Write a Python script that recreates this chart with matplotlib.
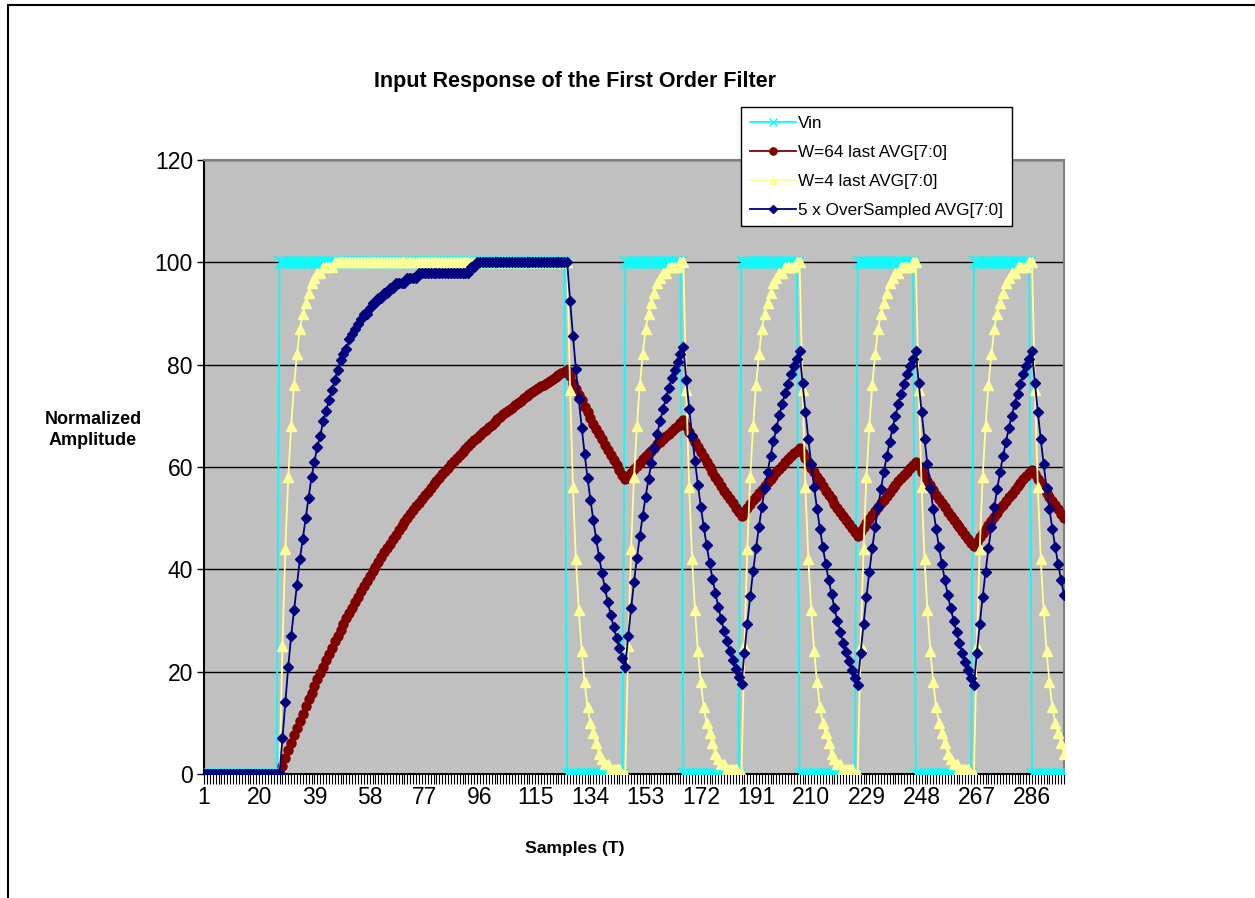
import matplotlib
matplotlib.use("Agg")
import matplotlib.pyplot as plt
from matplotlib.patches import Rectangle

plt.rcParams['font.family'] = ['Liberation Sans', 'DejaVu Sans']

# sample index (category axis)
samples = list(range(1, 298))

# input square wave
vin = ([0] * 26 + [100] * 99 + [0] * 20 + [100] * 20 + [0] * 20 + [100] * 20
       + [0] * 20 + [100] * 20 + [0] * 20 + [100] * 20 + [0] * 12)

# W=64 filter output
w64 = [0] * 27 + [
    1.6, 3.1, 4.6, 6.1, 7.6, 9.0, 10.4, 11.8, 13.2, 14.6,
    15.9, 17.2, 18.5, 19.8, 21.0, 22.3, 23.5, 24.7, 25.9, 27.0,
    28.2, 29.3, 30.4, 31.5, 32.5, 33.6, 34.6, 35.7, 36.7, 37.7,
    38.6, 39.6, 40.5, 41.5, 42.4, 43.3, 44.2, 45.0, 45.9, 46.7,
    47.6, 48.4, 49.2, 50.0, 50.8, 51.5, 52.3, 53.0, 53.8, 54.5,
    55.2, 55.9, 56.6, 57.3, 57.9, 58.6, 59.3, 59.9, 60.5, 61.1,
    61.7, 62.3, 62.9, 63.5, 64.1, 64.6, 65.2, 65.7, 66.3, 66.8,
    67.3, 67.8, 68.3, 68.8, 69.3, 69.8, 70.3, 70.7, 71.2, 71.6,
    72.1, 72.5, 72.9, 73.4, 73.8, 74.2, 74.6, 75.0, 75.4, 75.8,
    76.1, 76.5, 76.9, 77.2, 77.6, 78.0, 78.3, 78.6, 79.0,
    77.7, 76.5, 75.3, 74.1, 73.0, 71.8, 70.7, 69.6, 68.5, 67.5,
    66.4, 65.4, 64.3, 63.3, 62.4, 61.4, 60.4, 59.5, 58.5, 57.6,
    58.3, 58.9, 59.6, 60.2, 60.8, 61.5, 62.1, 62.7, 63.2, 63.8,
    64.4, 64.9, 65.5, 66.0, 66.5, 67.1, 67.6, 68.1, 68.6, 69.1,
    68.0, 66.9, 65.9, 64.9, 63.9, 62.9, 61.9, 60.9, 60.0, 59.0,
    58.1, 57.2, 56.3, 55.4, 54.5, 53.7, 52.9, 52.0, 51.2, 50.4,
    51.2, 52.0, 52.7, 53.5, 54.2, 54.9, 55.6, 56.3, 57.0, 57.6,
    58.3, 59.0, 59.6, 60.2, 60.9, 61.5, 62.1, 62.7, 63.2, 63.8,
    62.8, 61.8, 60.9, 59.9, 59.0, 58.1, 57.2, 56.3, 55.4, 54.5,
    53.7, 52.8, 52.0, 51.2, 50.4, 49.6, 48.8, 48.1, 47.3, 46.6,
    47.4, 48.2, 49.1, 49.8, 50.6, 51.4, 52.2, 52.9, 53.6, 54.4,
    55.1, 55.8, 56.5, 57.2, 57.8, 58.5, 59.1, 59.8, 60.4, 61.0,
    60.1, 59.1, 58.2, 57.3, 56.4, 55.5, 54.6, 53.8, 53.0, 52.1,
    51.3, 50.5, 49.7, 48.9, 48.2, 47.4, 46.7, 46.0, 45.2, 44.5,
    45.4, 46.3, 47.1, 47.9, 48.7, 49.5, 50.3, 51.1, 51.9, 52.6,
    53.4, 54.1, 54.8, 55.5, 56.2, 56.9, 57.6, 58.2, 58.9, 59.5,
    58.6, 57.7, 56.8, 55.9, 55.0, 54.2, 53.3, 52.5, 51.7, 50.9, 50.1]

# W=4 filter output
w4 = [0] * 27 + [
    25, 44, 58, 68, 76, 82, 87, 90, 92, 94, 96, 97, 98, 98, 99, 99, 99, 99, 100, 100] + [100] * 79 + [
    75, 56, 42, 32, 24, 18, 13, 10, 8, 6, 4, 3, 2, 2, 1, 1, 1, 1, 0, 0,
    25, 44, 58, 68, 76, 82, 87, 90, 92, 94, 96, 97, 98, 98, 99, 99, 99, 99, 100, 100,
    75, 56, 42, 32, 24, 18, 13, 10, 8, 6, 4, 3, 2, 2, 1, 1, 1, 1, 0, 0,
    25, 44, 58, 68, 76, 82, 87, 90, 92, 94, 96, 97, 98, 98, 99, 99, 99, 99, 100, 100,
    75, 56, 42, 32, 24, 18, 13, 10, 8, 6, 4, 3, 2, 2, 1, 1, 1, 1, 0, 0,
    25, 44, 58, 68, 76, 82, 87, 90, 92, 94, 96, 97, 98, 98, 99, 99, 99, 99, 100, 100,
    75, 56, 42, 32, 24, 18, 13, 10, 8, 6, 4, 3, 2, 2, 1, 1, 1, 1, 0, 0,
    25, 44, 58, 68, 76, 82, 87, 90, 92, 94, 96, 97, 98, 98, 99, 99, 99, 99, 100, 100,
    75, 56, 42, 32, 24, 18, 13, 10, 8, 6, 4]

# 5x oversampled output
over5 = [0] * 27 + [
    7, 14, 21, 27, 32, 37, 42, 46, 50, 54,
    58, 61, 64, 66, 69, 71, 73, 75, 77, 79,
    81, 82, 83, 85, 86, 87, 88, 89, 90, 90,
    91, 92, 92, 93, 93, 94, 94, 95, 95, 96,
    96, 96, 96, 97, 97, 97, 97, 98, 98, 98,
    98, 98, 98, 98, 98, 98, 98, 98, 98, 98,
    98, 98, 98, 98, 98, 99, 99] + [100] * 32 + [
    92.5, 85.6, 79.1, 73.2, 67.7, 62.6, 57.9, 53.6, 49.6, 45.9,
    42.4, 39.2, 36.3, 33.6, 31.1, 28.7, 26.6, 24.6, 22.7, 21.0,
    26.9, 32.4, 37.5, 42.2, 46.5, 50.5, 54.2, 57.7, 60.8, 63.8,
    66.5, 69.0, 71.3, 73.5, 75.5, 77.3, 79.0, 80.6, 82.0, 83.4,
    77.1, 71.4, 66.0, 61.1, 56.5, 52.2, 48.3, 44.7, 41.3, 38.2,
    35.4, 32.7, 30.3, 28.0, 25.9, 24.0, 22.2, 20.5, 19.0, 17.5,
    23.7, 29.4, 34.7, 39.6, 44.1, 48.3, 52.2, 55.8, 59.1, 62.2,
    65.0, 67.6, 70.1, 72.3, 74.4, 76.3, 78.1, 79.7, 81.2, 82.7,
    76.5, 70.8, 65.5, 60.5, 56.0, 51.8, 47.9, 44.3, 41.0, 37.9,
    35.1, 32.4, 30.0, 27.8, 25.7, 23.8, 22.0, 20.3, 18.8, 17.4,
    23.6, 29.3, 34.6, 39.5, 44.1, 48.3, 52.1, 55.7, 59.0, 62.1,
    64.9, 67.6, 70.0, 72.3, 74.3, 76.3, 78.1, 79.7, 81.2, 82.6,
    76.4, 70.7, 65.4, 60.5, 55.9, 51.7, 47.9, 44.3, 41.0, 37.9,
    35.0, 32.4, 30.0, 27.7, 25.7, 23.7, 21.9, 20.3, 18.8, 17.4,
    23.6, 29.3, 34.6, 39.5, 44.1, 48.3, 52.1, 55.7, 59.0, 62.1,
    64.9, 67.6, 70.0, 72.3, 74.3, 76.3, 78.1, 79.7, 81.2, 82.6,
    76.4, 70.7, 65.4, 60.5, 55.9, 51.7, 47.9, 44.3, 41.0, 37.9, 35.0]

xtick_labels = list(range(1, 298, 19))
yticks = [0, 20, 40, 60, 80, 100, 120]

W, H = 1255, 898
fig = plt.figure(figsize=(W / 100, H / 100), dpi=100)

# chart area border (only top/left visible in the crop)
fig.patches.append(Rectangle((8 / W, -0.1), 1.2, 1 - 5 / H + 0.1, transform=fig.transFigure,
                             fill=False, edgecolor='black', linewidth=1.5))

ax = fig.add_axes([204 / W, 1 - 774 / H, 860 / W, 614 / H])
ax.set_facecolor('#C0C0C0')

ax.plot(samples, vin, color='#00FFFF', marker='x', markersize=8, markeredgewidth=1,
        linewidth=1.3, label='Vin', zorder=3)
ax.plot(samples, w64, color='#800000', marker='o', markersize=6.5, linewidth=1.3,
        label='W=64 last AVG[7:0]', zorder=4)
ax.plot(samples, w4, color='#FFFF99', marker='^', markersize=6.5, linewidth=1.3,
        label='W=4 last AVG[7:0]', zorder=5)
ax.plot(samples, over5, color='#000080', marker='D', markersize=5, linewidth=1.3,
        label='5 x OverSampled AVG[7:0]', zorder=6)

ax.set_xlim(1, 297)
ax.set_ylim(0, 120)
ax.set_yticks(yticks)
ax.set_yticklabels([str(v) for v in yticks], fontsize=16.5)
ax.set_xticks(xtick_labels)
ax.set_xticklabels([str(v) for v in xtick_labels], fontsize=16.5)
ax.set_xticks(samples, minor=True)
ax.tick_params(axis='x', which='major', length=7, width=0.8, direction='out', pad=2)
ax.tick_params(axis='x', which='minor', length=7, width=0.8, direction='out')
ax.tick_params(axis='y', which='major', length=5, width=1, direction='out', pad=3)
ax.grid(axis='y', color='black', linewidth=1)
ax.set_axisbelow(True)

for side in ['top', 'right']:
    ax.spines[side].set_color('#808080')
    ax.spines[side].set_linewidth(1.5)
ax.spines['left'].set_linewidth(1.5)
ax.spines['bottom'].set_linewidth(1.5)

fig.text(575 / W, 1 - 82 / H, 'Input Response of the First Order Filter', ha='center', va='center',
         fontsize=15.5, fontweight='bold')
fig.text(93 / W, 1 - 430 / H, 'Normalized\nAmplitude', ha='center', va='center',
         fontsize=13, fontweight='bold', linespacing=1.25)
fig.text(575 / W, 1 - 848 / H, 'Samples (T)', ha='center', va='center',
         fontsize=12.6, fontweight='bold')

leg = ax.legend(loc='upper left', bbox_to_anchor=(741 / W, 1 - 107 / H), bbox_transform=fig.transFigure,
                fontsize=12.3, frameon=True, fancybox=False, edgecolor='black', framealpha=1,
                borderpad=0.5, labelspacing=0.82, handlelength=2.7, handletextpad=0.15,
                borderaxespad=0, markerscale=0.8)
leg.get_frame().set_linewidth(1)
leg.set_zorder(10)

fig.savefig('out.png', dpi=100)
